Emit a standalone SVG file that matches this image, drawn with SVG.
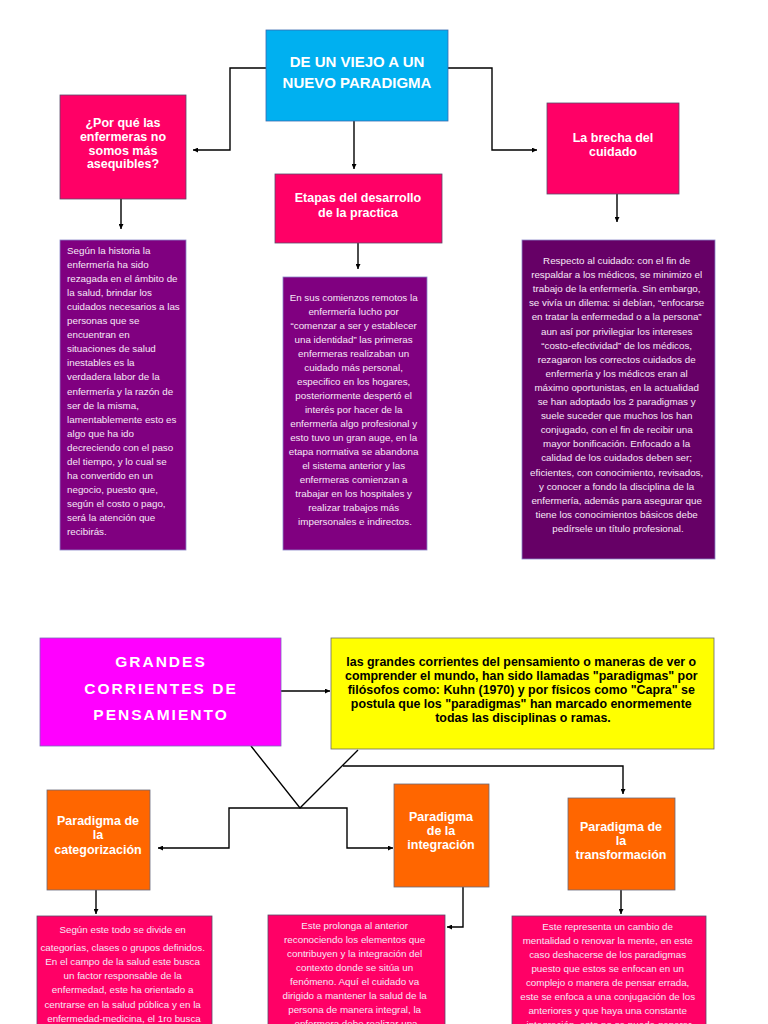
<svg xmlns="http://www.w3.org/2000/svg" width="768" height="1024" viewBox="0 0 768 1024">
<defs>
<marker id="ah" viewBox="0 0 10 10" refX="10" refY="5" markerWidth="5" markerHeight="5" markerUnits="userSpaceOnUse" orient="auto"><path d="M0,0 L10,5 L0,10 z" fill="#000"/></marker>
<style>
.bg{fill:#fff}
.ttl{font-family:"Liberation Sans",Arial,sans-serif;font-weight:bold;fill:#fff;text-anchor:middle}
.body{font-family:"Liberation Sans",Arial,sans-serif;font-size:9.8px;fill:#f6e8f6}
.mid{text-anchor:middle}
.pink{fill:#ff0066;stroke:#5a4a6a;stroke-width:0.8}
.purple{fill:#800080;stroke:#8a86c8;stroke-width:0.8}
.dpurple{fill:#660066;stroke:#8a86c8;stroke-width:0.8}
.orange{fill:#ff6600;stroke:#6a6a7a;stroke-width:0.8}
.con{fill:none;stroke:#000;stroke-width:1.4}
.arr{marker-end:url(#ah)}
</style>
</defs>
<rect class="bg" x="0" y="0" width="768" height="1024"/>

<g id="connectors">
<path class="con arr" d="M266,68 H230 V150 H193"/>
<path class="con arr" d="M448,68 H492 V150 H537"/>
<path class="con arr" d="M354,121 V169"/>
<path class="con arr" d="M121,199 V229"/>
<path class="con arr" d="M358,243 V269"/>
<path class="con arr" d="M617,194 V222"/>
<path class="con arr" d="M281,691 H330"/>
<path class="con" d="M251,746 L300,808 L358,750"/>
<path class="con arr" d="M343,766 H623 V794"/>
<path class="con arr" d="M300,808 H229 V848 H158"/>
<path class="con arr" d="M300,808 H347 V848 H393"/>
<path class="con arr" d="M96,890 V914"/>
<path class="con arr" d="M480,886 H463 V927 H447"/>
<path class="con arr" d="M621,890 V914"/>
</g>

<g id="n-titulo">
<rect x="266" y="30" width="182" height="91" fill="#00b0f0" stroke="#3a6ab0" stroke-width="0.8"/>
<text class="ttl" x="357" y="67" font-size="15">DE UN VIEJO A UN</text>
<text class="ttl" x="357" y="88" font-size="15">NUEVO PARADIGMA</text>
</g>

<g id="n-porque">
<rect class="pink" x="60" y="95" width="126" height="104"/>
<text class="ttl" font-size="12.5"><tspan x="123" y="127">¿Por qué las</tspan><tspan x="123" y="141">enfermeras no</tspan><tspan x="123" y="155">somos más</tspan><tspan x="123" y="168">asequibles?</tspan></text>
</g>

<g id="n-etapas">
<rect class="pink" x="275" y="174" width="167" height="69"/>
<text class="ttl" font-size="12.5"><tspan x="358" y="202">Etapas del desarrollo</tspan><tspan x="358" y="217">de la practica</tspan></text>
</g>

<g id="n-brecha">
<rect class="pink" x="547" y="103" width="132" height="91"/>
<text class="ttl" font-size="12.5"><tspan x="613" y="142">La brecha del</tspan><tspan x="613" y="156">cuidado</tspan></text>
</g>

<g id="n-texto1">
<rect class="purple" x="60" y="240" width="126" height="310"/>
<text class="body" font-size="9.5">
<tspan x="67" y="254">Según la historia la</tspan>
<tspan x="67" y="268">enfermería ha sido</tspan>
<tspan x="67" y="282">rezagada en el ámbito de</tspan>
<tspan x="67" y="296">la salud, brindar los</tspan>
<tspan x="67" y="310">cuidados necesarios a las</tspan>
<tspan x="67" y="324">personas que se</tspan>
<tspan x="67" y="338">encuentran en</tspan>
<tspan x="67" y="352">situaciones de salud</tspan>
<tspan x="67" y="366">inestables es la</tspan>
<tspan x="67" y="380">verdadera labor de la</tspan>
<tspan x="67" y="395">enfermería y la razón de</tspan>
<tspan x="67" y="409">ser de la misma,</tspan>
<tspan x="67" y="423">lamentablemente esto es</tspan>
<tspan x="67" y="437">algo que ha ido</tspan>
<tspan x="67" y="451">decreciendo con el paso</tspan>
<tspan x="67" y="465">del tiempo, y lo cual se</tspan>
<tspan x="67" y="479">ha convertido en un</tspan>
<tspan x="67" y="493">negocio, puesto que,</tspan>
<tspan x="67" y="507">según el costo o pago,</tspan>
<tspan x="67" y="521">será la atención que</tspan>
<tspan x="67" y="535">recibirás.</tspan>
</text>
</g>

<g id="n-texto2">
<rect class="purple" x="283" y="277" width="144" height="273"/>
<text class="body mid">
<tspan x="355" y="301">En sus comienzos remotos la</tspan>
<tspan x="355" y="315">enfermería lucho por</tspan>
<tspan x="355" y="329">“comenzar a ser y establecer</tspan>
<tspan x="355" y="343">una identidad” las primeras</tspan>
<tspan x="355" y="357">enfermeras realizaban un</tspan>
<tspan x="355" y="371">cuidado más personal,</tspan>
<tspan x="355" y="385">especifico en los hogares,</tspan>
<tspan x="355" y="399">posteriormente despertó el</tspan>
<tspan x="355" y="413">interés por hacer de la</tspan>
<tspan x="355" y="427">enfermería algo profesional y</tspan>
<tspan x="355" y="441">esto tuvo un gran auge, en la</tspan>
<tspan x="355" y="455">etapa normativa se abandona</tspan>
<tspan x="355" y="469">el sistema anterior y las</tspan>
<tspan x="355" y="483">enfermeras comienzan a</tspan>
<tspan x="355" y="497">trabajar en los hospitales y</tspan>
<tspan x="355" y="511">realizar trabajos más</tspan>
<tspan x="355" y="525">impersonales e indirectos.</tspan>
</text>
</g>

<g id="n-texto3">
<rect class="dpurple" x="522" y="240" width="193" height="319"/>
<text class="body mid">
<tspan x="618" y="264">Respecto al cuidado: con el fin de</tspan>
<tspan x="618" y="278">respaldar a los médicos, se minimizo el</tspan>
<tspan x="618" y="292">trabajo de la enfermería. Sin embargo,</tspan>
<tspan x="618" y="306">se vivía un dilema: si debían, “enfocarse</tspan>
<tspan x="618" y="320">en tratar la enfermedad o a la persona”</tspan>
<tspan x="618" y="335">aun así por privilegiar los intereses</tspan>
<tspan x="618" y="349">“costo-efectividad” de los médicos,</tspan>
<tspan x="618" y="363">rezagaron los correctos cuidados de</tspan>
<tspan x="618" y="377">enfermería y los médicos eran al</tspan>
<tspan x="618" y="391">máximo oportunistas, en la actualidad</tspan>
<tspan x="618" y="405">se han adoptado los 2 paradigmas y</tspan>
<tspan x="618" y="419">suele suceder que muchos los han</tspan>
<tspan x="618" y="433">conjugado, con el fin de recibir una</tspan>
<tspan x="618" y="447">mayor bonificación. Enfocado a la</tspan>
<tspan x="618" y="461">calidad de los cuidados deben ser;</tspan>
<tspan x="618" y="476">eficientes, con conocimiento, revisados,</tspan>
<tspan x="618" y="490">y conocer a fondo la disciplina de la</tspan>
<tspan x="618" y="504">enfermería, además para asegurar que</tspan>
<tspan x="618" y="518">tiene los conocimientos básicos debe</tspan>
<tspan x="618" y="532">pedírsele un título profesional.</tspan>
</text>
</g>

<g id="n-grandes">
<rect x="40" y="638" width="241" height="108" fill="#ff00ff" stroke="#7a6ab8" stroke-width="0.8"/>
<text class="ttl" font-size="15.5" letter-spacing="2"><tspan x="161" y="667">GRANDES</tspan><tspan x="161" y="694">CORRIENTES DE</tspan><tspan x="161" y="720">PENSAMIENTO</tspan></text>
</g>

<g id="n-definicion">
<rect x="331" y="638" width="383" height="111" fill="#ffff00" stroke="#6a6a6a" stroke-width="0.8"/>
<text font-family="Liberation Sans, Arial, sans-serif" font-weight="bold" font-size="12.4" fill="#000" text-anchor="middle">
<tspan x="523" y="666">las grandes corrientes del pensamiento o maneras de ver o</tspan>
<tspan x="523" y="680">comprender el mundo, han sido llamadas "paradigmas" por</tspan>
<tspan x="523" y="694">filósofos como: Kuhn (1970) y por físicos como "Capra" se</tspan>
<tspan x="523" y="708">postula que los "paradigmas" han marcado enormemente</tspan>
<tspan x="523" y="722">todas las disciplinas o ramas.</tspan>
</text>
</g>

<g id="n-categorizacion">
<rect class="orange" x="47" y="790" width="103" height="100"/>
<text class="ttl" font-size="12.5"><tspan x="98" y="825">Paradigma de</tspan><tspan x="98" y="839">la</tspan><tspan x="98" y="854">categorización</tspan></text>
</g>

<g id="n-integracion">
<rect class="orange" x="394" y="784" width="95" height="103"/>
<text class="ttl" font-size="12.5"><tspan x="441" y="821">Paradigma</tspan><tspan x="441" y="835">de la</tspan><tspan x="441" y="849">integración</tspan></text>
</g>

<g id="n-transformacion">
<rect class="orange" x="568" y="798" width="107" height="92"/>
<text class="ttl" font-size="12.5"><tspan x="621" y="831">Paradigma de</tspan><tspan x="621" y="845">la</tspan><tspan x="621" y="859">transformación</tspan></text>
</g>

<g id="n-texto-cat">
<rect class="pink" x="37" y="916" width="175" height="120"/>
<text class="body mid" fill="#fff">
<tspan x="124" y="933">Según este todo se divide en</tspan>
<tspan x="124" y="951">categorías, clases o grupos definidos.</tspan>
<tspan x="124" y="965">En el campo de la salud este busca</tspan>
<tspan x="124" y="979">un factor responsable de la</tspan>
<tspan x="124" y="993">enfermedad, este ha orientado a</tspan>
<tspan x="124" y="1008">centrarse en la salud pública y en la</tspan>
<tspan x="124" y="1022">enfermedad-medicina, el 1ro busca</tspan>
</text>
</g>

<g id="n-texto-int">
<rect class="pink" x="268" y="915" width="177" height="120"/>
<text class="body mid">
<tspan x="356" y="929">Este prolonga al anterior</tspan>
<tspan x="356" y="943">reconociendo los elementos que</tspan>
<tspan x="356" y="957">contribuyen y la integración del</tspan>
<tspan x="356" y="971">contexto donde se sitúa un</tspan>
<tspan x="356" y="985">fenómeno. Aquí el cuidado va</tspan>
<tspan x="356" y="999">dirigido a mantener la salud de la</tspan>
<tspan x="356" y="1013">persona de manera integral, la</tspan>
<tspan x="356" y="1027">enfermera debe realizar una</tspan>
</text>
</g>

<g id="n-texto-trans">
<rect class="pink" x="512" y="916" width="194" height="120"/>
<text class="body mid">
<tspan x="609" y="930">Este representa un cambio de</tspan>
<tspan x="609" y="944">mentalidad o renovar la mente, en este</tspan>
<tspan x="609" y="958">caso deshacerse de los paradigmas</tspan>
<tspan x="609" y="972">puesto que estos se enfocan en un</tspan>
<tspan x="609" y="986">complejo o manera de pensar errada,</tspan>
<tspan x="609" y="1000">este se enfoca a una conjugación de los</tspan>
<tspan x="609" y="1014">anteriores y que haya una constante</tspan>
<tspan x="609" y="1028">integración, esto no se puede generar</tspan>
</text>
</g>
</svg>
